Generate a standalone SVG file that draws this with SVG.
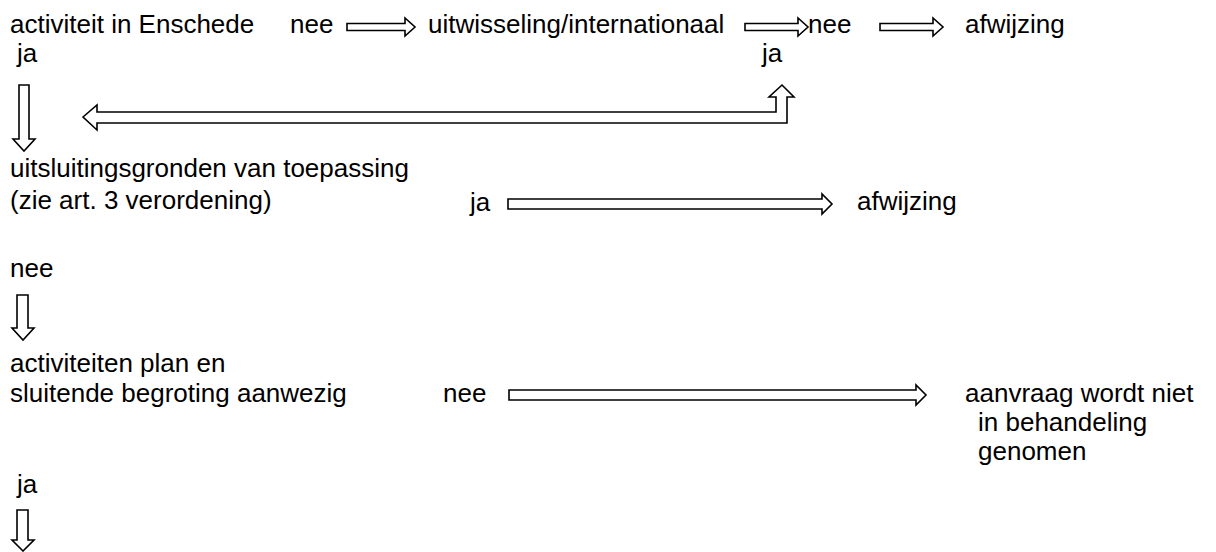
<svg xmlns="http://www.w3.org/2000/svg" width="1216" height="552" viewBox="0 0 1216 552">
<style>
text{font-family:"Liberation Sans",Arial,sans-serif;font-size:26px;fill:#000}
.ar{fill:#fff;stroke:#000;stroke-width:1.6;stroke-linejoin:miter}
</style>
<rect width="1216" height="552" fill="#fff"/>
<g id="n1"><text x="10" y="33">activiteit in Enschede</text></g>
<g id="l1"><text x="290" y="33">nee</text></g>
<g id="n2"><text x="428" y="33">uitwisseling/internationaal</text></g>
<g id="l2"><text x="808" y="33">nee</text></g>
<g id="n3"><text x="965" y="33">afwijzing</text></g>
<g id="l3"><text x="17" y="62">ja</text></g>
<g id="l4"><text x="762" y="62">ja</text></g>
<g id="n4"><text x="10" y="177">uitsluitingsgronden van toepassing</text><text x="10" y="209">(zie art. 3 verordening)</text></g>
<g id="l5"><text x="470" y="211">ja</text></g>
<g id="n5"><text x="857" y="210">afwijzing</text></g>
<g id="l6"><text x="10" y="277">nee</text></g>
<g id="n6"><text x="10" y="372">activiteiten plan en</text><text x="10" y="402">sluitende begroting aanwezig</text></g>
<g id="l7"><text x="443" y="402">nee</text></g>
<g id="n7"><text x="965" y="402">aanvraag wordt niet</text><text x="978" y="431">in behandeling</text><text x="978" y="460">genomen</text></g>
<g id="l8"><text x="17" y="493">ja</text></g>
<g id="connectors">
<path class="ar" d="M347,23.5 H405 V18 L415,27 L405,36 V30.5 H347 Z"/>
<path class="ar" d="M745,23.5 H798 V18 L808,27 L798,36 V30.5 H745 Z"/>
<path class="ar" d="M880,23.5 H933 V18 L943,27 L933,36 V30.5 H880 Z"/>
<path class="ar" d="M83,117 L97,105 V112 H776 V97 H769 L782,85 L794,97 H787 V123 H97 V130 Z"/>
<path class="ar" d="M19,85 V139 H13 L24,151 L35,139 H29 V85 Z"/>
<path class="ar" d="M508,199 H822 V194 L832,204 L822,214 V209 H508 Z"/>
<path class="ar" d="M17,295 V328 H12 L23,340 L34,328 H28 V295 Z"/>
<path class="ar" d="M509,390 H916 V385 L926,395 L916,405 V400 H509 Z"/>
<path class="ar" d="M17,510 V540 H12 L23,551 L34,540 H28 V510 Z"/>
</g>
</svg>
